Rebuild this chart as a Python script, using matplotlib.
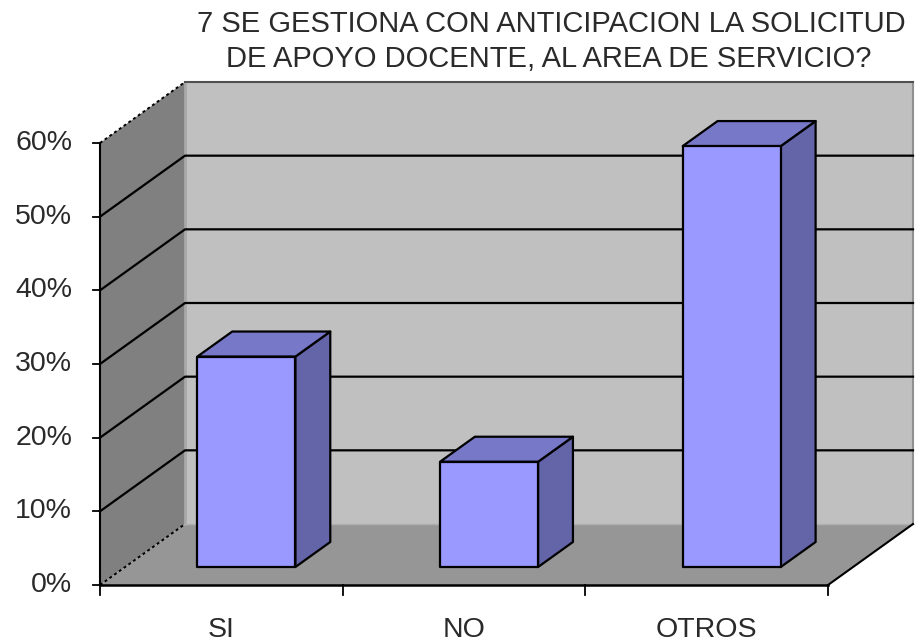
import matplotlib
matplotlib.use("Agg")
import matplotlib.pyplot as plt
from matplotlib.patches import Polygon

# ---- data ----
categories = ["SI", "NO", "OTROS"]
values = [28.57, 14.29, 57.14]          # percent
yticks = [0, 10, 20, 30, 40, 50, 60]
ytick_labels = ["0%", "10%", "20%", "30%", "40%", "50%", "60%"]
title_lines = ["7 SE GESTIONA CON ANTICIPACION LA SOLICITUD",
               "DE APOYO DOCENTE, AL AREA DE SERVICIO?"]

# ---- geometry (pixel scale of the reference) ----
W, H = 915, 644
x0px, y0px = 100, 585        # origin of front plane
kx = (828 - 100) / 3.0       # px per category
ky = (585 - 143) / 60.0      # px per percent
DX = 85 / kx                 # depth offset in category units
DY = 61 / ky                 # depth offset in percent units
ymax = 60
f0, f1 = 0.295, 0.705        # bar depth span
bw = 0.404                   # bar width

fig = plt.figure(figsize=(W / 100, H / 100), dpi=100)
ax = fig.add_axes([0, 0, 1, 1])
ax.set_xlim(-x0px / kx, (W - x0px) / kx)
ax.set_ylim(-(H - y0px) / ky, y0px / ky)
ax.axis("off")

FONT = "Liberation Sans"
fs = 20.5
tcol = "#2a2a2a"

n = len(categories)
# back wall
ax.add_patch(Polygon([(DX, DY), (n + DX, DY), (n + DX, DY + ymax), (DX, DY + ymax)],
                     closed=True, facecolor="#C0C0C0", edgecolor="none", zorder=1))
# left wall
ax.add_patch(Polygon([(0, 0), (DX, DY), (DX, DY + ymax), (0, ymax)],
                     closed=True, facecolor="#808080", edgecolor="none", zorder=1))
# floor
ax.add_patch(Polygon([(0, 0), (n, 0), (n + DX, DY), (DX, DY)],
                     closed=True, facecolor="#969696", edgecolor="none", zorder=1))

# wall edges
ax.plot([DX, DX], [DY, DY + ymax], color="#A8A8A8", lw=2, zorder=2)
ax.plot([n + DX, n + DX], [DY, DY + ymax], color="#909090", lw=1.5, zorder=2)
ax.plot([DX, n + DX], [DY + ymax, DY + ymax], color="#505050", lw=1.5, zorder=2)
ax.plot([DX, n + DX], [DY, DY], color="#B0B0B0", lw=1, zorder=2)
ax.plot([0, DX], [0, DY], color="black", lw=1.4, ls=(0, (1.5, 1.5)), zorder=3)
ax.plot([0, DX], [ymax, DY + ymax], color="black", lw=1.4, ls=(0, (1.5, 1.5)), zorder=3)
ax.plot([n, n + DX], [0, DY], color="black", lw=1.5, zorder=3)

# gridlines
for v in yticks[1:-1]:
    ax.plot([0, DX, n + DX], [v, DY + v, DY + v], color="black", lw=1.6, zorder=2)

# axes lines and ticks
ax.plot([0, 0], [0, ymax], color="black", lw=1.5, zorder=6)
ax.plot([0, n], [0, 0], color="black", lw=1.8, zorder=6)
for v, lab in zip(yticks, ytick_labels):
    ax.plot([-7 / kx, 0], [v, v], color="black", lw=1.3, zorder=6)
    ax.text(-28 / kx, v, lab, ha="right", va="center", fontsize=fs,
            family=FONT, color=tcol)
for i in range(n + 1):
    ax.plot([i, i], [0, -10 / ky], color="black", lw=1.3, zorder=6)
for i, c in enumerate(categories):
    ax.text(i + 0.5, -(637 - y0px) / ky, c, ha="center", va="baseline",
            fontsize=fs, family=FONT, color=tcol)

# bars
for i, v in enumerate(values):
    xa = i + 0.5 - bw / 2
    xb = xa + bw
    ox0, oy0 = f0 * DX, f0 * DY
    ox1, oy1 = f1 * DX, f1 * DY
    side = [(xb + ox0, oy0), (xb + ox1, oy1), (xb + ox1, oy1 + v), (xb + ox0, oy0 + v)]
    top = [(xa + ox0, oy0 + v), (xb + ox0, oy0 + v), (xb + ox1, oy1 + v), (xa + ox1, oy1 + v)]
    front = [(xa + ox0, oy0), (xb + ox0, oy0), (xb + ox0, oy0 + v), (xa + ox0, oy0 + v)]
    ax.add_patch(Polygon(side, closed=True, facecolor="#6464A8", edgecolor="black",
                         lw=1.6, joinstyle="round", zorder=4))
    ax.add_patch(Polygon(top, closed=True, facecolor="#7878C8", edgecolor="black",
                         lw=1.6, joinstyle="round", zorder=4))
    ax.add_patch(Polygon(front, closed=True, facecolor="#9999FF", edgecolor="black",
                         lw=1.6, joinstyle="round", zorder=5))

# title
ax.text((551 - x0px) / kx, (y0px - 32) / ky, title_lines[0], ha="center", va="baseline",
        fontsize=21, family=FONT, color=tcol)
ax.text((549 - x0px) / kx, (y0px - 67) / ky, title_lines[1], ha="center", va="baseline",
        fontsize=21, family=FONT, color=tcol)

fig.savefig("out.png", dpi=100, facecolor="white")
